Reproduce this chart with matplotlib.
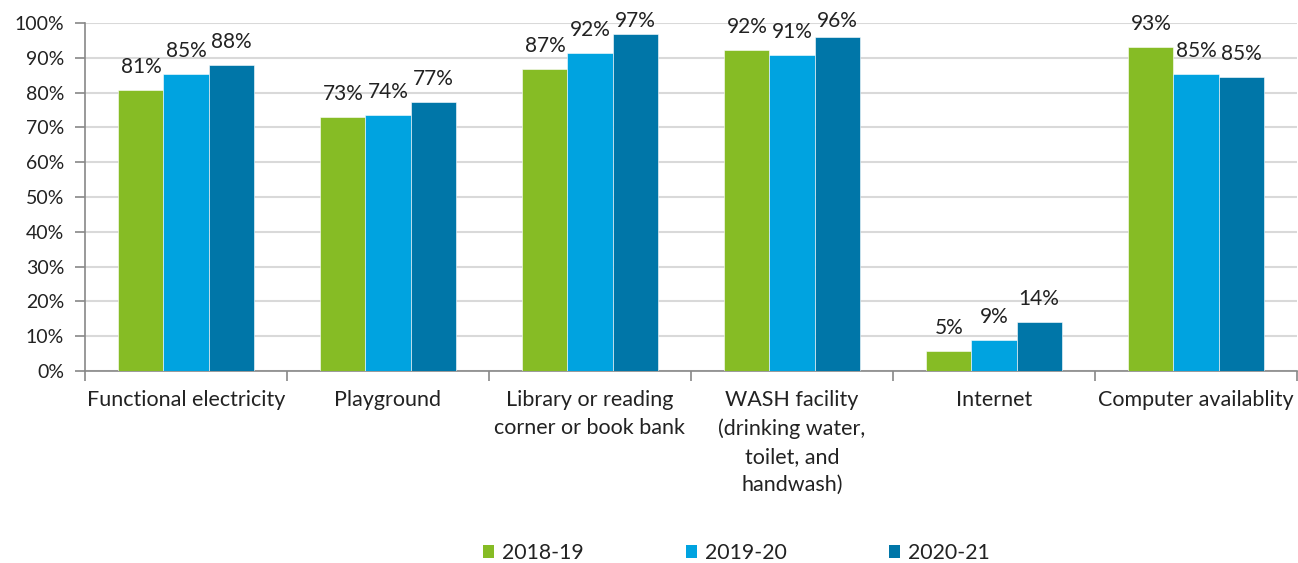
import matplotlib.pyplot as plt
import numpy as np
from matplotlib.patches import Patch

plt.rcParams['font.family'] = ['Lato', 'DejaVu Sans']

# Dados
categorias = ['Functional electricity', 'Playground', 'Library or reading\ncorner or book bank',
              'WASH facility\n(drinking water,\ntoilet, and\nhandwash)', 'Internet', 'Computer availablity']
anos = ['2018-19', '2019-20', '2020-21']
v_2018 = [80.7, 73.0, 86.8, 92.2, 5.7, 93.1]
v_2019 = [85.3, 73.6, 91.5, 90.7, 8.8, 85.3]
v_2020 = [88.0, 77.3, 96.8, 95.9, 14.2, 84.5]
rot_2018 = ['81%', '73%', '87%', '92%', '5%', '93%']
rot_2019 = ['85%', '74%', '92%', '91%', '9%', '85%']
rot_2020 = ['88%', '77%', '97%', '96%', '14%', '85%']
cores = ['#86BC25', '#00A3E0', '#0076A8']

fig = plt.figure(figsize=(12.98, 5.63), dpi=100)
ax = fig.add_axes([85 / 1298, 1 - 371 / 563, 1212 / 1298, 348 / 563])

x = np.arange(len(categorias))
largura = 0.223
series = [v_2018, v_2019, v_2020]
rotulos = [rot_2018, rot_2019, rot_2020]
for i, (vals, rots) in enumerate(zip(series, rotulos)):
    pos = x + (i - 1) * largura
    ax.bar(pos, vals, largura, color=cores[i], edgecolor='white', linewidth=0.4, zorder=3)
    for p, v, r in zip(pos, vals, rots):
        # rótulo acima da barra, sem sair do topo do gráfico
        y_rot = min(v + 4.9, 98.9)
        ax.text(p, y_rot, r, ha='center', va='baseline', fontsize=15, color='#222222', clip_on=False)

ax.set_xlim(-0.5, len(categorias) - 0.5)
ax.set_ylim(0, 100)
ax.set_yticks(np.arange(0, 101, 10))
ax.set_yticklabels([f'{t}%' for t in range(0, 101, 10)], fontsize=14, color='#222222')
ax.yaxis.grid(True, color='#d9d9d9', linewidth=1.5, zorder=0)
ax.set_axisbelow(True)

ax.set_xticks(np.arange(-0.5, len(categorias)), minor=False)
ax.set_xticklabels([])
ax.set_xticks(x, minor=True)
ax.set_xticklabels(categorias, minor=True, fontsize=15.5, color='#222222', va='top', linespacing=1.5)
ax.tick_params(axis='x', which='minor', length=0, pad=14)
ax.tick_params(axis='x', which='major', length=7, color='#888888', width=1.2)
ax.tick_params(axis='y', length=7, color='#888888', width=1.2, pad=8)

for s in ['top', 'right']:
    ax.spines[s].set_visible(False)
for s in ['left', 'bottom']:
    ax.spines[s].set_color('#888888')
    ax.spines[s].set_linewidth(1.2)

handles = [Patch(facecolor=c, label=a) for c, a in zip(cores, anos)]
fig.legend(handles=handles, loc='center', bbox_to_anchor=(736 / 1298, 1 - 553 / 563), ncol=3,
           frameon=False, fontsize=15.3, handlelength=0.55, handleheight=0.55,
           handletextpad=0.35, columnspacing=4.8, labelcolor='#222222')

plt.savefig('out.png', dpi=100)
